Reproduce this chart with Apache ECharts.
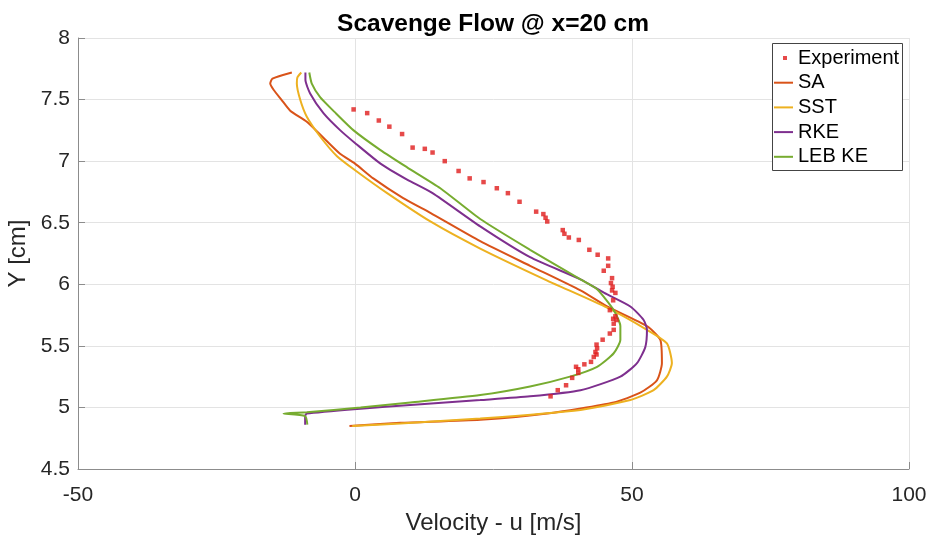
<!DOCTYPE html>
<html>
<head>
<meta charset="utf-8">
<script src="https://cdn.jsdelivr.net/npm/echarts@6/dist/echarts.min.js"></script>
<style>
  html, body { margin: 0; padding: 0; background: #fff; }
  #main { width: 931px; height: 538px; }
</style>
</head>
<body>
<div id="main"></div>
<script>
// data, [u (m/s), Y (cm)]
const expData = [
  [-0.25, 7.42], [2.2, 7.39], [4.3, 7.33], [6.2, 7.28], [8.5, 7.22], [10.4, 7.11], [12.6, 7.10],
  [14.0, 7.07], [16.2, 7.00], [18.7, 6.92], [20.7, 6.86], [23.2, 6.83], [25.6, 6.78], [27.6, 6.74],
  [29.7, 6.67], [32.7, 6.59], [34.0, 6.57], [34.4, 6.54], [34.7, 6.51], [37.5, 6.44], [37.8, 6.41],
  [38.6, 6.38], [40.4, 6.36], [42.3, 6.28], [43.8, 6.24], [45.7, 6.21], [45.7, 6.15], [44.9, 6.11],
  [46.4, 6.05], [46.2, 6.01], [46.5, 5.98], [46.4, 5.95], [47.0, 5.93], [46.6, 5.87], [46.0, 5.79],
  [47.0, 5.74], [47.2, 5.71], [46.6, 5.72], [46.7, 5.68], [46.7, 5.63], [46.0, 5.60], [44.7, 5.55],
  [43.6, 5.51], [43.7, 5.48], [43.4, 5.45], [43.6, 5.43], [43.1, 5.41], [42.6, 5.37], [41.4, 5.35],
  [39.9, 5.33], [40.3, 5.31], [40.3, 5.28], [39.2, 5.24], [38.1, 5.18], [36.6, 5.14], [35.3, 5.09]
];
const saData = [
  [-11.4, 7.72], [-14.9, 7.67], [-15.3, 7.63], [-14.7, 7.58], [-13.3, 7.50], [-11.7, 7.41],
  [-8.7, 7.32], [-5.7, 7.19], [-2.7, 7.06], [0.0, 6.98], [3.3, 6.86], [8.7, 6.70], [13.6, 6.58],
  [22.6, 6.35], [31.6, 6.15], [40.7, 5.95], [45.5, 5.82], [52.7, 5.66], [55.1, 5.55], [55.4, 5.36],
  [54.5, 5.22], [51.5, 5.12], [46.7, 5.04], [34.7, 4.95], [22.6, 4.90], [8.2, 4.875], [-1.0, 4.85]
];
const sstData = [
  [-9.7, 7.72], [-10.4, 7.68], [-10.5, 7.63], [-9.9, 7.50], [-8.7, 7.36], [-6.3, 7.20],
  [-3.25, 7.04], [0.2, 6.92], [5.8, 6.74], [13.6, 6.51], [22.6, 6.29], [34.7, 6.03], [45.5, 5.81],
  [52.7, 5.63], [56.3, 5.52], [57.2, 5.36], [56.3, 5.25], [53.9, 5.14], [49.7, 5.06], [40.7, 4.98],
  [22.6, 4.91], [8.2, 4.87], [-0.5, 4.85]
];
const rkeData = [
  [-8.95, 7.72], [-8.95, 7.66], [-8.1, 7.55], [-5.7, 7.39], [-2.65, 7.25], [0.2, 7.14], [4.6, 6.98],
  [9.4, 6.85], [14.0, 6.74], [22.6, 6.47], [31.6, 6.22], [40.7, 6.04], [45.0, 5.93], [49.7, 5.82],
  [52.1, 5.71], [52.7, 5.63], [52.4, 5.49], [50.9, 5.36], [47.9, 5.25], [40.7, 5.14], [31.6, 5.09],
  [22.6, 5.06], [10.0, 5.02], [1.0, 4.99], [-8.7, 4.95], [-9.0, 4.93], [-9.0, 4.86]
];
const lebData = [
  [-8.25, 7.72], [-7.8, 7.63], [-6.3, 7.52], [-3.7, 7.40], [-0.25, 7.25], [4.6, 7.09],
  [9.4, 6.95], [15.4, 6.78], [22.6, 6.53], [31.6, 6.28], [40.7, 6.04], [43.7, 5.96], [46.7, 5.79],
  [47.9, 5.66], [47.9, 5.55], [46.7, 5.44], [43.7, 5.33], [38.8, 5.25], [31.6, 5.17], [22.6, 5.10],
  [10.0, 5.04], [1.0, 5.00], [-8.7, 4.96], [-12.9, 4.95], [-9.0, 4.93], [-8.6, 4.86]
];
const lineNames = ['SA', 'SST', 'RKE', 'LEB KE'];
const lineColors = ['#D95319', '#EDB120', '#7E2F8E', '#77AC30'];
const lineData = [saData, sstData, rkeData, lebData];

const font = 'Liberation Sans, Arial, Helvetica, sans-serif';
const axisGrey = '#8c8c8c';

const chart = echarts.init(document.getElementById('main'));

const series = [{
  name: 'Experiment',
  type: 'scatter',
  data: expData,
  symbol: 'rect',
  symbolSize: 4.5,
  itemStyle: { color: '#e01b1b' },
  z: 3
}];
lineNames.forEach((n, i) => {
  series.push({
    name: n,
    type: 'line',
    data: lineData[i],
    symbol: 'none',
    smooth: 0.2,
    lineStyle: { color: lineColors[i], width: 2 },
    itemStyle: { color: lineColors[i] },
    z: 2
  });
});

chart.setOption({
  animation: false,
  title: {
    text: 'Scavenge Flow @ x=20 cm',
    left: 488,
    top: 7,
    textAlign: 'center',
    textStyle: { fontFamily: font, fontSize: 24.5, fontWeight: 'bold', color: '#000' }
  },
  grid: { left: 78, right: 22, top: 38, bottom: 69, outerBoundsMode: 'none' },
  xAxis: {
    type: 'value',
    min: -50, max: 100, interval: 50,
    name: 'Velocity - u [m/s]',
    nameLocation: 'middle',
    nameGap: 40,
    nameTextStyle: { fontFamily: font, fontSize: 24, color: '#262626' },
    axisLine: { show: true, onZero: false, lineStyle: { color: axisGrey, width: 1 } },
    axisTick: { show: true, inside: true, length: 7, lineStyle: { color: axisGrey } },
    axisLabel: { fontFamily: font, fontSize: 21, color: '#262626', margin: 16 },
    splitLine: { show: true, lineStyle: { color: '#e3e3e3', width: 1 } }
  },
  yAxis: {
    type: 'value',
    min: 4.5, max: 8, interval: 0.5,
    name: 'Y [cm]',
    nameLocation: 'middle',
    nameGap: 39,
    nameTextStyle: { fontFamily: font, fontSize: 24, color: '#262626' },
    axisLine: { show: true, onZero: false, lineStyle: { color: axisGrey, width: 1 } },
    axisTick: { show: true, inside: true, length: 7, lineStyle: { color: axisGrey } },
    axisLabel: { fontFamily: font, fontSize: 21, color: '#262626', margin: 8 },
    splitLine: { show: true, lineStyle: { color: '#e3e3e3', width: 1 } }
  },
  graphic: [{
    type: 'rect',
    z: 3,
    shape: { x: 772.5, y: 43.5, width: 130, height: 127 },
    style: { fill: '#fff', stroke: '#444', lineWidth: 1 }
  }],
  legend: [{
    data: [{ name: 'Experiment', icon: 'rect' }],
    left: 783, top: 48,
    padding: 0,
    itemWidth: 4, itemHeight: 4,
    selectedMode: false,
    z: 5,
    textStyle: { fontFamily: font, fontSize: 20, color: '#000', padding: [0, 0, 0, 6] }
  }, {
    data: lineNames.map(n => ({ name: n, icon: 'rect' })),
    orient: 'vertical',
    left: 774, top: 72.7,
    padding: 0,
    itemWidth: 19, itemHeight: 2,
    itemGap: 4.7,
    selectedMode: false,
    z: 5,
    textStyle: { fontFamily: font, fontSize: 20, color: '#000' }
  }],
  series: series
});
</script>
</body>
</html>
